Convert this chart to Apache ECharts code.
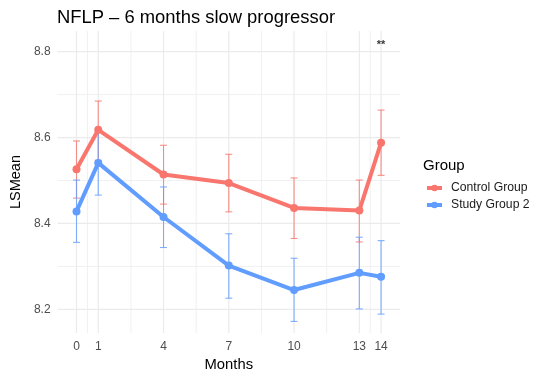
<!DOCTYPE html>
<html>
<head>
<meta charset="utf-8">
<script src="https://cdn.jsdelivr.net/npm/echarts@6/dist/echarts.min.js"></script>
<style>html,body{margin:0;padding:0;background:#fff}#c{width:550px;height:378px}</style>
</head>
<body>
<div id="c"></div>
<script>
// ---- data ----
var months = [0, 1, 4, 7, 10, 13, 14];
var controlMean = [8.526, 8.618, 8.514, 8.494, 8.436, 8.430, 8.588];
var controlLow  = [8.459, 8.547, 8.445, 8.427, 8.365, 8.357, 8.512];
var controlHigh = [8.592, 8.685, 8.582, 8.561, 8.506, 8.501, 8.664];
var studyMean = [8.428, 8.541, 8.415, 8.302, 8.245, 8.285, 8.276];
var studyLow  = [8.356, 8.466, 8.344, 8.226, 8.172, 8.201, 8.189];
var studyHigh = [8.501, 8.615, 8.485, 8.376, 8.319, 8.368, 8.360];
var seriesNames = ['Control Group', 'Study Group 2'];
var xBreaks = [0, 1, 4, 7, 10, 13, 14];
var xMinor = [0.5, 2.5, 5.5, 8.5, 11.5, 13.5];
var yBreaks = [8.2, 8.4, 8.6, 8.8];
var yMinor = [8.3, 8.5, 8.7];
var sigMonth = [14];
var sigLabel = ['**'];
var sigY = [8.816];

var RED = '#F8766D', BLUE = '#619CFF';
var FONT = 'Liberation Sans, Arial, sans-serif';

function pairs(xs, ys) { return xs.map(function (x, i) { return [x, ys[i]]; }); }
function triples(xs, lo, hi) { return xs.map(function (x, i) { return [x, lo[i], hi[i]]; }); }

// [value, direction (0 = vertical line at x, 1 = horizontal line at y), major flag]
var gridData = [];
xMinor.forEach(function (v) { gridData.push([v, 0, 0]); });
yMinor.forEach(function (v) { gridData.push([v, 1, 0]); });
xBreaks.forEach(function (v) { gridData.push([v, 0, 1]); });
yBreaks.forEach(function (v) { gridData.push([v, 1, 1]); });

function gridRender(params, api) {
  var cs = params.coordSys;
  var v = api.value(0), dir = api.value(1), major = api.value(2);
  var x1, y1, x2, y2;
  if (dir === 0) {
    var px = api.coord([v, 8.5])[0];
    x1 = x2 = px; y1 = cs.y; y2 = cs.y + cs.height;
  } else {
    var py = api.coord([0, v])[1];
    y1 = y2 = py; x1 = cs.x; x2 = cs.x + cs.width;
  }
  return {
    type: 'line',
    shape: { x1: x1, y1: y1, x2: x2, y2: y2 },
    style: { stroke: major ? '#EBEBEB' : '#F0F0F0', lineWidth: major ? 1.2 : 1 },
    silent: true
  };
}

function errRender(color) {
  return function (params, api) {
    var x = api.value(0);
    var lo = api.coord([x, api.value(1)]);
    var hi = api.coord([x, api.value(2)]);
    var w = 3.5;
    var st = { stroke: color, lineWidth: 1.1, opacity: 0.8 };
    return {
      type: 'group',
      children: [
        { type: 'line', shape: { x1: lo[0], y1: lo[1], x2: hi[0], y2: hi[1] }, style: st },
        { type: 'line', shape: { x1: lo[0] - w, y1: lo[1], x2: lo[0] + w, y2: lo[1] }, style: st },
        { type: 'line', shape: { x1: hi[0] - w, y1: hi[1], x2: hi[0] + w, y2: hi[1] }, style: st }
      ]
    };
  };
}

var chart = echarts.init(document.getElementById('c'), null, { renderer: 'canvas' });
chart.setOption({
  animation: false,
  backgroundColor: '#fff',
  textStyle: { fontFamily: FONT },
  title: [
    { text: 'NFLP \u2013 6 months slow progressor', left: 52, top: 4,
      textStyle: { fontSize: 18.4, fontWeight: 'normal', color: '#000', fontFamily: FONT } },
    { text: 'Group', left: 418, top: 153,
      textStyle: { fontSize: 15, fontWeight: 'normal', color: '#000', fontFamily: FONT } }
  ],
  legend: {
    data: seriesNames,
    orient: 'vertical',
    left: 420, top: 177,
    itemWidth: 15, itemHeight: 8, itemGap: 5,
    lineStyle: { width: 4 },
    textStyle: { fontSize: 12.2, color: '#1a1a1a', fontFamily: FONT, padding: [0, 0, 0, 4] }
  },
  grid: { left: 56, right: 150, top: 31, bottom: 45, containLabel: false },
  xAxis: {
    type: 'value', min: -0.87, max: 14.87,
    name: 'Months', nameLocation: 'middle', nameGap: 20,
    nameTextStyle: { fontSize: 14.8, color: '#000', fontFamily: FONT },
    axisLine: { show: false }, axisTick: { show: false }, splitLine: { show: false },
    axisLabel: { customValues: xBreaks, fontSize: 12, color: '#4D4D4D', margin: 8, fontFamily: FONT }
  },
  yAxis: {
    type: 'value', min: 8.145, max: 8.848,
    name: 'LSMean', nameLocation: 'middle', nameGap: 34,
    nameTextStyle: { fontSize: 14.5, color: '#000', fontFamily: FONT },
    axisLine: { show: false }, axisTick: { show: false }, splitLine: { show: false },
    axisLabel: { customValues: yBreaks, fontSize: 12, color: '#4D4D4D', margin: 7, fontFamily: FONT,
      formatter: function (v) { return v.toFixed(1); } }
  },
  series: [
    { type: 'custom', name: 'grid', renderItem: gridRender, data: gridData, z: 0, silent: true,
      encode: { x: 0 } },
    { type: 'custom', name: 'errC', renderItem: errRender(RED), data: triples(months, controlLow, controlHigh), z: 2 },
    { type: 'custom', name: 'errS', renderItem: errRender(BLUE), data: triples(months, studyLow, studyHigh), z: 2 },
    { type: 'line', name: seriesNames[0], data: pairs(months, controlMean), color: RED,
      lineStyle: { width: 4, color: RED }, itemStyle: { color: RED },
      symbol: 'circle', symbolSize: 8, showSymbol: true, z: 3 },
    { type: 'line', name: seriesNames[1], data: pairs(months, studyMean), color: BLUE,
      lineStyle: { width: 4, color: BLUE }, itemStyle: { color: BLUE },
      symbol: 'circle', symbolSize: 8, showSymbol: true, z: 3 },
    { type: 'scatter', name: 'sig', data: pairs(sigMonth, sigY).map(function (p, i) { return { value: p, label: { formatter: sigLabel[i] } }; }),
      symbolSize: 0, silent: true,
      label: { show: true, position: 'inside', fontSize: 11, fontWeight: 'bold', color: '#000', fontFamily: FONT } }
  ]
});
</script>
</body>
</html>
